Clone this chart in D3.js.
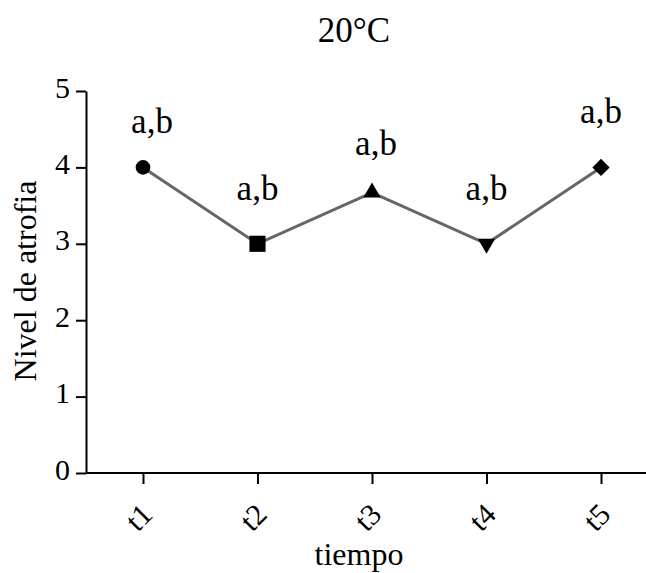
<!DOCTYPE html>
<html>
<head>
<meta charset="utf-8">
<script src="https://cdn.jsdelivr.net/npm/d3@7"></script>
<style>
    body { margin: 0; background: #fff; }
    text { font-family: "Liberation Serif", "Times New Roman", serif; fill: #000; }
</style>
</head>
<body>
<div id="chart"></div>
<script>
const categories = ["t1", "t2", "t3", "t4", "t5"];
const values = [4, 3, 3.67, 3, 4];
const shapes = ["circle", "square", "triangle", "triangleDown", "diamond"];
const annotations = ["a,b", "a,b", "a,b", "a,b", "a,b"];
const annotationLevels = [4.45, 3.57, 4.16, 3.57, 4.58];
const yTicks = [0, 1, 2, 3, 4, 5];

function drawChart(container) {
    const width = 646;
    const height = 573;
    const margin = { top: 91, right: 0, bottom: 100, left: 86 };

    const svg = d3.select(container)
        .append("svg")
        .attr("width", width)
        .attr("height", height);

    const xScale = d3.scalePoint()
        .domain(categories)
        .range([143, 601]);

    const yScale = d3.scaleLinear()
        .domain([0, 5])
        .range([height - margin.bottom, margin.top]);

    // y axis
    const yAxis = svg.append("g")
        .attr("transform", `translate(${margin.left},0)`)
        .call(d3.axisLeft(yScale).tickValues(yTicks).tickFormat(d3.format("d"))
            .tickSize(10).tickSizeOuter(0).tickPadding(6));
    yAxis.selectAll("text").attr("font-size", 30).attr("dy", "0.2em");
    yAxis.selectAll("line, path").attr("stroke", "#000").attr("stroke-width", 2);

    // x axis
    const xAxis = svg.append("g")
        .attr("transform", `translate(0,${yScale(0)})`)
        .call(d3.axisBottom(xScale).tickSize(11).tickSizeOuter(0));
    xAxis.select(".domain").remove();
    xAxis.append("line")
        .attr("x1", margin.left).attr("x2", width)
        .attr("y1", 0).attr("y2", 0);
    xAxis.selectAll("line").attr("stroke", "#000").attr("stroke-width", 2);
    xAxis.selectAll(".tick text")
        .attr("font-size", 30)
        .attr("x", 0).attr("y", 0).attr("dy", "0.35em")
        .attr("text-anchor", "middle")
        .attr("transform", "translate(-5,44) rotate(-45)");

    // connecting line
    const line = d3.line()
        .x((d, i) => xScale(categories[i]))
        .y(d => yScale(d));

    svg.append("path")
        .datum(values)
        .attr("fill", "none")
        .attr("stroke", "#666")
        .attr("stroke-width", 3)
        .attr("d", line);

    // markers
    const symbolFor = {
        circle: { type: d3.symbolCircle, size: 170, rotate: 0 },
        square: { type: d3.symbolSquare, size: 260, rotate: 0 },
        triangle: { type: d3.symbolTriangle, size: 130, rotate: 0 },
        triangleDown: { type: d3.symbolTriangle, size: 130, rotate: 180 },
        diamond: { type: d3.symbolSquare, size: 150, rotate: 45 }
    };

    svg.selectAll(".marker")
        .data(values)
        .enter().append("path")
        .attr("class", "marker")
        .attr("d", (d, i) => d3.symbol().type(symbolFor[shapes[i]].type).size(symbolFor[shapes[i]].size)())
        .attr("transform", (d, i) => `translate(${xScale(categories[i])},${yScale(d)}) rotate(${symbolFor[shapes[i]].rotate})`)
        .attr("fill", "#000");

    // significance letters
    svg.selectAll(".annot")
        .data(annotations)
        .enter().append("text")
        .attr("class", "annot")
        .attr("x", (d, i) => xScale(categories[i]) + (i === 0 ? 9 : i === 2 ? 4 : 0))
        .attr("y", (d, i) => yScale(annotationLevels[i]))
        .attr("text-anchor", "middle")
        .attr("font-size", 35)
        .text(d => d);

    // titles
    svg.append("text")
        .attr("x", 354).attr("y", 42)
        .attr("text-anchor", "middle")
        .attr("font-size", 35)
        .text("20°C");

    svg.append("text")
        .attr("x", 359).attr("y", 565)
        .attr("text-anchor", "middle")
        .attr("font-size", 32)
        .text("tiempo");

    svg.append("text")
        .attr("transform", "translate(36,281) rotate(-90)")
        .attr("text-anchor", "middle")
        .attr("font-size", 32)
        .text("Nivel de atrofia");
}

drawChart("#chart");
</script>
</body>
</html>
